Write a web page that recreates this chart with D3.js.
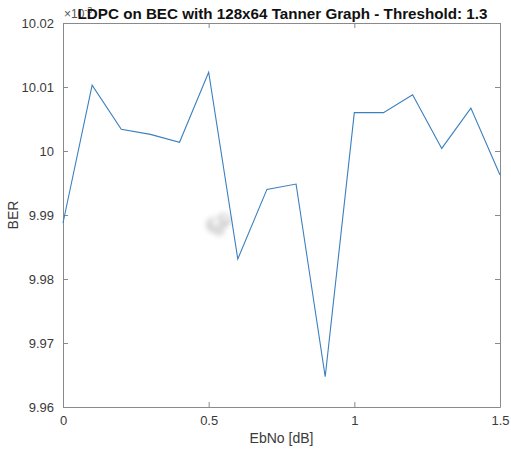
<!DOCTYPE html>
<html>
<head>
<meta charset="utf-8">
<script src="https://cdn.jsdelivr.net/npm/d3@7"></script>
<style>
  html, body { margin: 0; padding: 0; background: #fff; }
  svg { display: block; font-family: Arial, "Liberation Sans", Helvetica, sans-serif; }
</style>
</head>
<body>
<svg id="chart" width="511" height="452"></svg>
<script>
// EbNo sweep (dB) and measured BER (scaled by 1e-3)
const ebno = [0, 0.1, 0.2, 0.3, 0.4, 0.5, 0.6, 0.7, 0.8, 0.9, 1.0, 1.1, 1.2, 1.3, 1.4, 1.5];
const ber = [9.98875, 10.0103, 10.0034, 10.0026, 10.00136, 10.0123, 9.98313, 9.9940,
             9.99484, 9.96473, 10.0060, 10.0060, 10.0088, 10.0004, 10.0067, 9.99625];
const xTicks = [0, 0.5, 1, 1.5];
const yTicks = [9.96, 9.97, 9.98, 9.99, 10, 10.01, 10.02];
const xTickLabels = ["0", "0.5", "1", "1.5"];
const yTickLabels = ["9.96", "9.97", "9.98", "9.99", "10", "10.01", "10.02"];

const svg = d3.select("#chart");
const m = { left: 63, right: 500, top: 23, bottom: 407 };
const axisColor = "#8a8a8a";
const textColor = "#3a3a3a";

const x = d3.scaleLinear().domain([0, 1.5]).range([m.left, m.right]);
const y = d3.scaleLinear().domain([9.96, 10.02]).range([m.bottom, m.top]);

// soft smudge on the canvas
const defs = svg.append("defs");
defs.append("filter").attr("id", "soft").attr("x", "-50%").attr("y", "-50%")
  .attr("width", "200%").attr("height", "200%")
  .append("feGaussianBlur").attr("stdDeviation", 2.5);
const smudge = svg.append("g").attr("filter", "url(#soft)");
smudge.append("circle").attr("cx", 214).attr("cy", 225).attr("r", 8).attr("fill", "#d6d6d6");
smudge.append("circle").attr("cx", 224).attr("cy", 220).attr("r", 7).attr("fill", "#d0d0d0");
smudge.append("circle").attr("cx", 219).attr("cy", 230).attr("r", 6).attr("fill", "#dadada");
smudge.append("circle").attr("cx", 216).attr("cy", 222).attr("r", 4).attr("fill", "#f4f4f4");
smudge.append("circle").attr("cx", 225).attr("cy", 218).attr("r", 3).attr("fill", "#f6f6f6");

// axes with inward ticks on all four sides
const tick = 5;
svg.append("g").attr("transform", `translate(0,${m.bottom})`)
  .call(d3.axisBottom(x).tickValues(xTicks).tickFormat((d, i) => xTickLabels[i]).tickSizeInner(-tick).tickSizeOuter(0).tickPadding(9))
  .call(g => g.select(".domain").attr("stroke", axisColor))
  .call(g => g.selectAll(".tick line").attr("stroke", axisColor))
  .call(g => g.selectAll("text").attr("fill", textColor).attr("font-size", 13).attr("font-family", "Arial, 'Liberation Sans', sans-serif"));

svg.append("g").attr("transform", `translate(0,${m.top})`)
  .call(d3.axisTop(x).tickValues(xTicks).tickFormat("").tickSizeInner(-tick).tickSizeOuter(0))
  .call(g => g.select(".domain").attr("stroke", axisColor))
  .call(g => g.selectAll(".tick line").attr("stroke", axisColor));

svg.append("g").attr("transform", `translate(${m.left},0)`)
  .call(d3.axisLeft(y).tickValues(yTicks).tickFormat((d, i) => yTickLabels[i]).tickSizeInner(-tick).tickSizeOuter(0).tickPadding(9))
  .call(g => g.select(".domain").attr("stroke", axisColor))
  .call(g => g.selectAll(".tick line").attr("stroke", axisColor))
  .call(g => g.selectAll("text").attr("fill", textColor).attr("font-size", 13).attr("font-family", "Arial, 'Liberation Sans', sans-serif"));

svg.append("g").attr("transform", `translate(${m.right},0)`)
  .call(d3.axisRight(y).tickValues(yTicks).tickFormat("").tickSizeInner(-tick).tickSizeOuter(0))
  .call(g => g.select(".domain").attr("stroke", axisColor))
  .call(g => g.selectAll(".tick line").attr("stroke", axisColor));

// BER curve
const line = d3.line().x((d, i) => x(ebno[i])).y(d => y(d));
svg.append("path").datum(ber)
  .attr("fill", "none").attr("stroke", "#3a7fbf").attr("stroke-width", 1.1)
  .attr("stroke-linejoin", "miter").attr("d", line);

// exponent marker, partly under the title as MATLAB places it
const expo = svg.append("text").attr("x", 64).attr("y", 18).attr("fill", "#555")
  .attr("font-size", 12);
expo.append("tspan").text("×10");
expo.append("tspan").attr("font-size", 9).attr("dy", -5).text("-3");

// title and axis labels
svg.append("text").attr("x", (m.left + m.right) / 2 + 1).attr("y", 19)
  .attr("text-anchor", "middle").attr("font-weight", "bold").attr("font-size", 15.2)
  .attr("fill", "#111").text("LDPC on BEC with 128x64 Tanner Graph - Threshold: 1.3");

svg.append("text").attr("x", (m.left + m.right) / 2).attr("y", 443)
  .attr("text-anchor", "middle").attr("font-size", 14).attr("fill", textColor).text("EbNo [dB]");

svg.append("text").attr("transform", `translate(18,${(m.top + m.bottom) / 2}) rotate(-90)`)
  .attr("text-anchor", "middle").attr("font-size", 14).attr("fill", textColor).text("BER");
</script>
</body>
</html>
